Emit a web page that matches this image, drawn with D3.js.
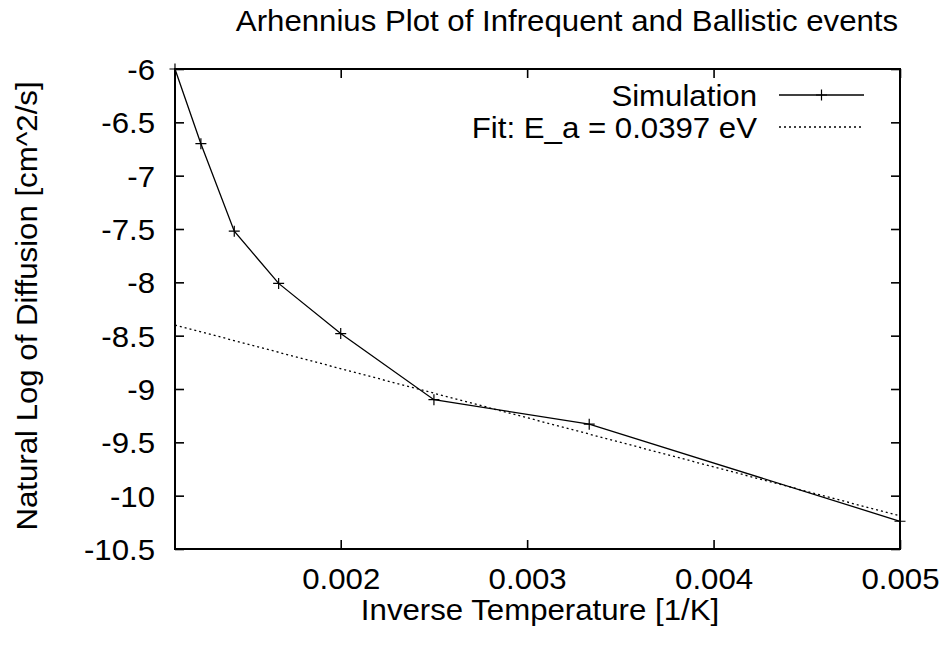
<!DOCTYPE html>
<html>
<head>
<meta charset="utf-8">
<script src="https://cdn.jsdelivr.net/npm/d3@7"></script>
<style>
  body { margin: 0; background: #fff; }
  svg { display: block; }
  text { font-family: "Liberation Sans", Arial, Helvetica, sans-serif; fill: #000; }
</style>
</head>
<body>
<svg id="chart" width="944" height="652"></svg>
<script>
// ---- data ----
const inverseTemperature = [0.001111, 0.00125, 0.001429, 0.001667, 0.002, 0.0025, 0.003333, 0.005];
const logDiffusion = [-6.0, -6.70, -7.52, -8.01, -8.48, -9.10, -9.33, -10.24];
const fitX = [0.001111, 0.005];
const fitY = [-8.40, -10.19];
const xTicks = [0.002, 0.003, 0.004, 0.005];
const yTicks = [-6, -6.5, -7, -7.5, -8, -8.5, -9, -9.5, -10, -10.5];
const xTickLabels = ["0.002", "0.003", "0.004", "0.005"];
const yTickLabels = ["-6", "-6.5", "-7", "-7.5", "-8", "-8.5", "-9", "-9.5", "-10", "-10.5"];
const seriesNames = ["Simulation", "Fit: E_a = 0.0397 eV"];
const titleText = "Arhennius Plot of Infrequent and Ballistic events";
const xLabel = "Inverse Temperature [1/K]";
const yLabel = "Natural Log of Diffusion [cm^2/s]";

// ---- layout ----
const W = 944, H = 652;
const margin = { left: 175, top: 69, right: 44, bottom: 103 };
const pw = W - margin.left - margin.right;
const ph = H - margin.top - margin.bottom;
const FS = 30, SX = 1.04;

const svg = d3.select("#chart");
const g = svg.append("g").attr("transform", `translate(${margin.left},${margin.top})`);

const x = d3.scaleLinear().domain([1 / 900, 0.005]).range([0, pw]);
const y = d3.scaleLinear().domain([-10.5, -6]).range([ph, 0]);

const tickLen = 9;
function styleAxis(sel) {
  sel.select(".domain").remove();
  sel.selectAll(".tick line").attr("stroke", "#000").attr("stroke-width", 1.6);
}

// bottom axis (inward ticks)
const xb = g.append("g").attr("transform", `translate(0,${ph})`)
  .call(d3.axisBottom(x).tickValues(xTicks).tickSizeInner(-tickLen).tickSizeOuter(0)
    .tickFormat((d, i) => xTickLabels[i]));
styleAxis(xb);
xb.selectAll(".tick text")
  .attr("y", 0).attr("dy", 0)
  .attr("transform", `translate(0,40) scale(${SX},1)`)
  .attr("font-size", FS).attr("font-family", "Liberation Sans, Arial, sans-serif");

// top axis (mirrored ticks)
const xt = g.append("g")
  .call(d3.axisTop(x).tickValues(xTicks).tickSizeInner(-tickLen).tickSizeOuter(0).tickFormat(""));
styleAxis(xt);

// left axis
const yl = g.append("g")
  .call(d3.axisLeft(y).tickValues(yTicks).tickSizeInner(-tickLen).tickSizeOuter(0)
    .tickFormat((d, i) => yTickLabels[i]));
styleAxis(yl);
yl.selectAll(".tick text")
  .attr("x", 0).attr("dy", "0.35em")
  .attr("transform", `translate(-20,0) scale(${SX},1)`)
  .attr("font-size", FS).attr("font-family", "Liberation Sans, Arial, sans-serif");

// right axis (mirrored ticks)
const yr = g.append("g").attr("transform", `translate(${pw},0)`)
  .call(d3.axisRight(y).tickValues(yTicks).tickSizeInner(-tickLen).tickSizeOuter(0).tickFormat(""));
styleAxis(yr);

// border
g.append("rect").attr("x", 0).attr("y", 0).attr("width", pw).attr("height", ph)
  .attr("fill", "none").attr("stroke", "#000").attr("stroke-width", 2);

// fit line (dotted)
const fitData = fitX.map((v, i) => [v, fitY[i]]);
const line = d3.line().x(d => x(d[0])).y(d => y(d[1]));
g.append("path").datum(fitData).attr("d", line)
  .attr("fill", "none").attr("stroke", "#000").attr("stroke-width", 1.3)
  .attr("stroke-dasharray", "2,3");

// simulation line
const simData = inverseTemperature.map((v, i) => [v, logDiffusion[i]]);
g.append("path").datum(simData).attr("d", line)
  .attr("fill", "none").attr("stroke", "#000").attr("stroke-width", 1.3);

// plus markers
const ms = 5.5;
const plus = (sel) => sel.attr("d", `M${-ms},0H${ms}M0,${-ms}V${ms}`)
  .attr("stroke", "#000").attr("stroke-width", 1.2).attr("fill", "none");
g.selectAll(".pt").data(simData).enter().append("path").attr("class", "pt")
  .attr("transform", d => `translate(${x(d[0])},${y(d[1])})`).call(plus);

// legend
const legend = svg.append("g");
const legRows = [95, 127];
seriesNames.forEach((name, i) => {
  legend.append("text")
    .attr("transform", `translate(757,${legRows[i]}) scale(${SX},1)`)
    .attr("dy", "0.35em").attr("text-anchor", "end").attr("font-size", FS).text(name);
  const l = legend.append("line")
    .attr("x1", 779).attr("x2", 864).attr("y1", legRows[i]).attr("y2", legRows[i])
    .attr("stroke", "#000").attr("stroke-width", 1.3);
  if (i === 1) l.attr("stroke-dasharray", "2,3");
  if (i === 0) legend.append("path").attr("transform", `translate(821.5,${legRows[i]})`).call(plus);
});

// title
svg.append("text").attr("transform", `translate(567,31) scale(${SX},1)`)
  .attr("text-anchor", "middle").attr("font-size", FS).text(titleText);

// x label
svg.append("text").attr("transform", `translate(540,620) scale(${SX},1)`)
  .attr("text-anchor", "middle").attr("font-size", FS).text(xLabel);

// y label
svg.append("text").attr("transform", `translate(37,306) rotate(-90) scale(${SX},1)`)
  .attr("text-anchor", "middle").attr("font-size", FS).text(yLabel);
</script>
</body>
</html>
